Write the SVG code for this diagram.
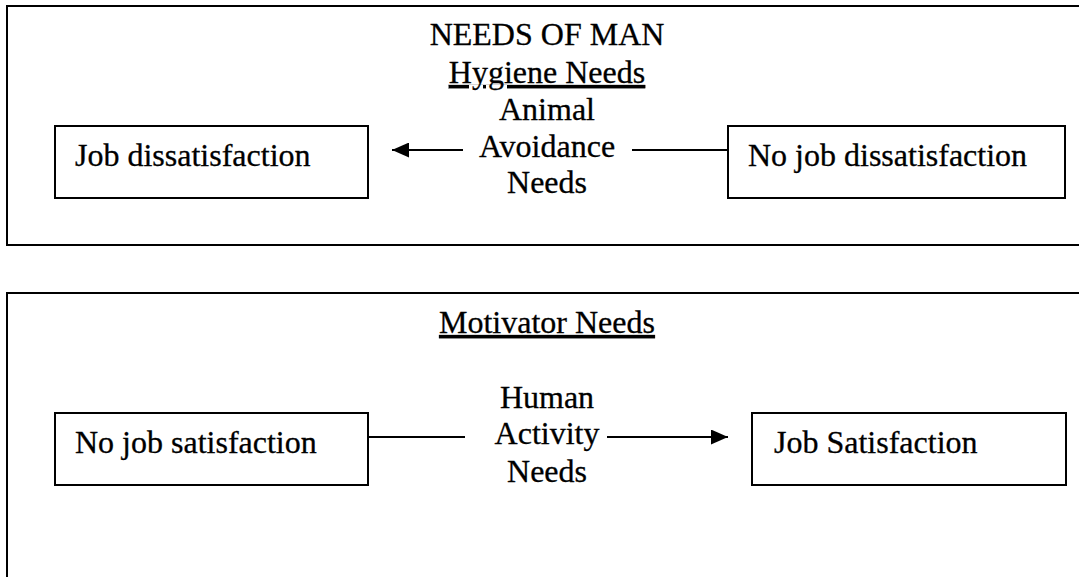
<svg xmlns="http://www.w3.org/2000/svg" width="1079" height="577" viewBox="0 0 1079 577">
<style>
text{font-family:"Liberation Serif","Times New Roman",serif;font-size:32px;fill:#000;stroke:#000;stroke-width:0.3}
.c{text-anchor:middle}
.u{text-decoration:underline}
.frame{fill:none;stroke:#000;stroke-width:2}
.box{fill:#fff;stroke:#000;stroke-width:2}
.ln{fill:none;stroke:#000;stroke-width:2}
</style>
<defs>
<marker id="ah" viewBox="0 0 17 15" refX="17" refY="7.5" markerWidth="17" markerHeight="15" markerUnits="userSpaceOnUse" orient="auto">
<path d="M0,0 L17,7.5 L0,15 Z" fill="#000"/>
</marker>
</defs>
<g id="panel-hygiene">
<rect class="frame" x="7" y="6" width="1090" height="239"/>
<text class="c" x="547" y="45">NEEDS OF MAN</text>
<text class="c u" x="547" y="83">Hygiene Needs</text>
<text class="c" x="547" y="120">Animal</text>
<text class="c" x="547" y="157">Avoidance</text>
<text class="c" x="547" y="193">Needs</text>
</g>
<g id="panel-motivator">
<rect class="frame" x="7" y="293" width="1090" height="300"/>
<text class="c u" x="547" y="333">Motivator Needs</text>
<text class="c" x="547" y="408">Human</text>
<text class="c" x="547" y="444">Activity</text>
<text class="c" x="547" y="482">Needs</text>
</g>
<g id="node-job-dissatisfaction">
<rect class="box" x="55" y="126" width="313" height="72"/>
<text x="75" y="166">Job dissatisfaction</text>
</g>
<g id="node-no-job-dissatisfaction">
<rect class="box" x="728" y="126" width="337" height="72"/>
<text x="748" y="166">No job dissatisfaction</text>
</g>
<g id="node-no-job-satisfaction">
<rect class="box" x="55" y="413" width="313" height="72"/>
<text x="75" y="453">No job satisfaction</text>
</g>
<g id="node-job-satisfaction">
<rect class="box" x="752" y="413" width="314" height="72"/>
<text x="774" y="453">Job Satisfaction</text>
</g>
<g id="connectors">
<line class="ln" x1="463" y1="150" x2="392" y2="150" marker-end="url(#ah)"/>
<line class="ln" x1="632" y1="150" x2="728" y2="150"/>
<line class="ln" x1="368" y1="437" x2="465" y2="437"/>
<line class="ln" x1="607" y1="437" x2="728" y2="437" marker-end="url(#ah)"/>
</g>
</svg>
